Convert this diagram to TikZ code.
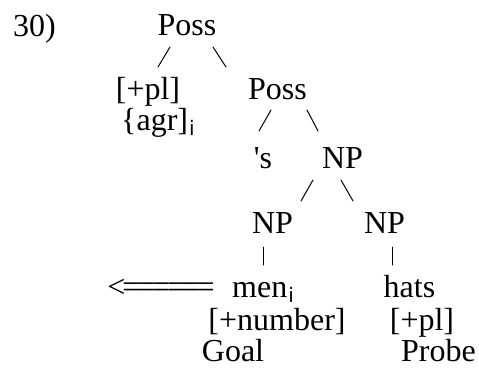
\documentclass[tikz,border=0pt]{standalone}
\usepackage{fontspec}
\setmainfont{Liberation Serif}
\newfontfamily\idxfont{DejaVu Sans}
\usepackage{tikz}
\usetikzlibrary{positioning}
\tikzset{
    branch/.style={line width=1pt, line cap=round, black}
}
\newcommand{\idx}{\kern1pt\raisebox{-5pt}{\idxfont\fontsize{20}{20}\selectfont i}}
\newcommand{\eq}{\kern-0.1em=}
\begin{document}
\begin{tikzpicture}[x=1pt, y=-1pt]
    \tikzstyle{every node}=[anchor=base, inner sep=0pt, font=\fontsize{32}{34}\selectfont];
    \useasboundingbox (0,0) rectangle (479,367);
    \node[anchor=base west] (ex) at (13,36) {30)};
    \node (poss1) at (187,35) {Poss};
    \node (pl1) at (148,99) {[+pl]};
    \node[anchor=base west] (agr) at (121,130) {\{agr]\idx};
    \node (poss2) at (277.5,99) {Poss};
    \node (s) at (263,168) {\textquotesingle s};
    \node (np1) at (342.5,168) {NP};
    \node (np2) at (272.5,233) {NP};
    \node (np3) at (384.5,233) {NP};
    \node (arr) at (161,297) {{<}\eq\eq\eq\eq\eq\eq};
    \node[anchor=base west] (men) at (232,297) {men\idx};
    \node (hats) at (409.5,297) {hats};
    \node (num) at (277,330) {[+number]};
    \node (pl2) at (422,330) {[+pl]};
    \node (goal) at (233,361) {Goal};
    \node (probe) at (438.5,361) {Probe};
    % branches
    \coordinate (a1) at (170,47);
    \coordinate (a2) at (158,67);
    \coordinate (a3) at (213,47);
    \coordinate (a4) at (226,67);
    \coordinate (a5) at (271,110);
    \coordinate (a6) at (259,131);
    \coordinate (a7) at (307,110);
    \coordinate (a8) at (318,131);
    \coordinate (a9) at (313,180);
    \coordinate (a10) at (301,201);
    \coordinate (a11) at (341,180);
    \coordinate (a12) at (353,201);
    \coordinate (a13) at (263,247);
    \coordinate (a14) at (263,265);
    \coordinate (a15) at (392,247);
    \coordinate (a16) at (392,265);
    \draw[branch] (a1) -- (a2);
    \draw[branch] (a3) -- (a4);
    \draw[branch] (a5) -- (a6);
    \draw[branch] (a7) -- (a8);
    \draw[branch] (a9) -- (a10);
    \draw[branch] (a11) -- (a12);
    \draw[branch] (a13) -- (a14);
    \draw[branch] (a15) -- (a16);
\end{tikzpicture}
\end{document}
